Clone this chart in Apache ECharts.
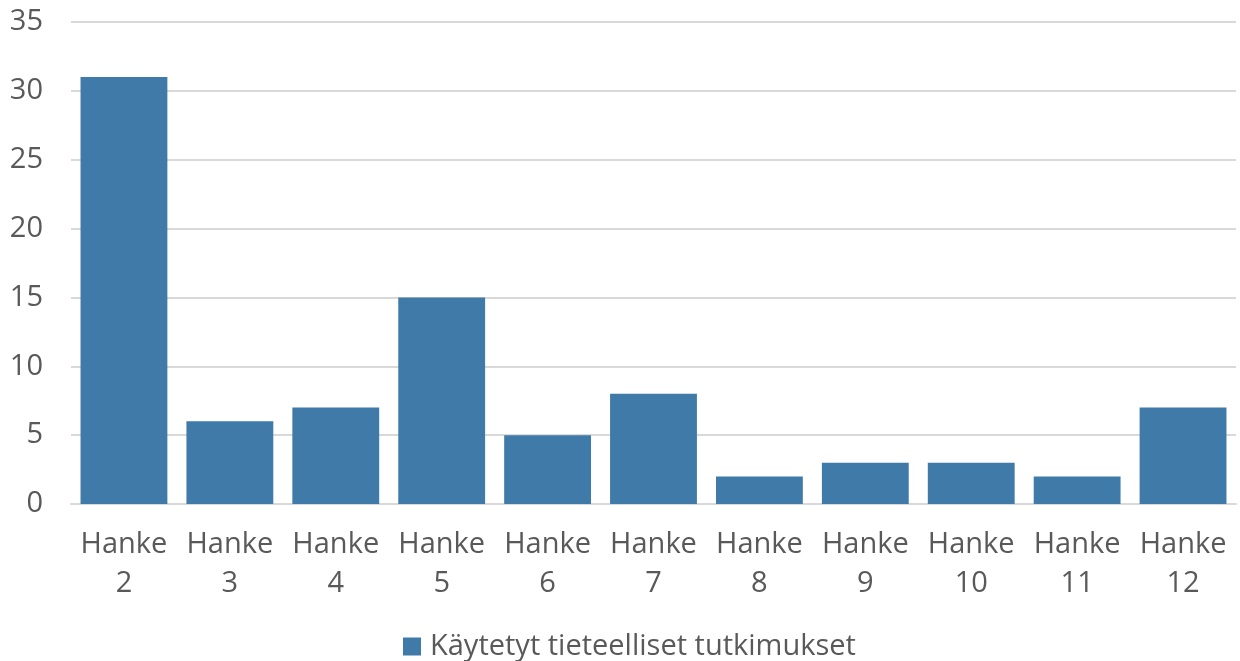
<!DOCTYPE html>
<html>
<head>
<meta charset="utf-8">
<script src="https://cdn.jsdelivr.net/npm/echarts@6/dist/echarts.min.js"></script>
<style>
  html, body { margin: 0; padding: 0; background: #fff; }
  #chart { width: 1240px; height: 661px; }
</style>
</head>
<body>
<div id="chart"></div>
<script>
const categories = ['Hanke\n2', 'Hanke\n3', 'Hanke\n4', 'Hanke\n5', 'Hanke\n6', 'Hanke\n7', 'Hanke\n8', 'Hanke\n9', 'Hanke\n10', 'Hanke\n11', 'Hanke\n12'];
const studies = [31, 6, 7, 15, 5, 8, 2, 3, 3, 2, 7];
const seriesName = 'Käytetyt tieteelliset tutkimukset';

const font = 'Open Sans';
const textColor = '#595959';

const chart = echarts.init(document.getElementById('chart'));

chart.setOption({
  animation: false,
  textStyle: { fontFamily: font },
  grid: {
    left: 71,
    right: 4,
    top: 22,
    bottom: 157
  },
  legend: {
    data: [seriesName],
    top: 627,
    left: 398,
    icon: 'rect',
    itemWidth: 18,
    itemHeight: 18,
    textStyle: { fontFamily: font, fontSize: 29, color: textColor, padding: [0, 0, 0, 4] }
  },
  xAxis: {
    type: 'category',
    data: categories,
    axisLine: { show: true, lineStyle: { color: '#d9d9d9', width: 2 } },
    axisTick: { show: false },
    axisLabel: {
      fontFamily: font,
      fontSize: 29,
      color: textColor,
      lineHeight: 39,
      margin: 21,
      interval: 0
    }
  },
  yAxis: {
    type: 'value',
    min: 0,
    max: 35,
    interval: 5,
    axisLine: { show: false },
    axisTick: { show: false },
    splitLine: { lineStyle: { color: '#d9d9d9', width: 2 } },
    axisLabel: {
      fontFamily: font,
      fontSize: 29,
      color: textColor,
      margin: 28
    }
  },
  series: [{
    name: seriesName,
    type: 'bar',
    data: studies,
    barCategoryGap: '18%',
    itemStyle: { color: '#3f7aa9' }
  }]
});
</script>
</body>
</html>
